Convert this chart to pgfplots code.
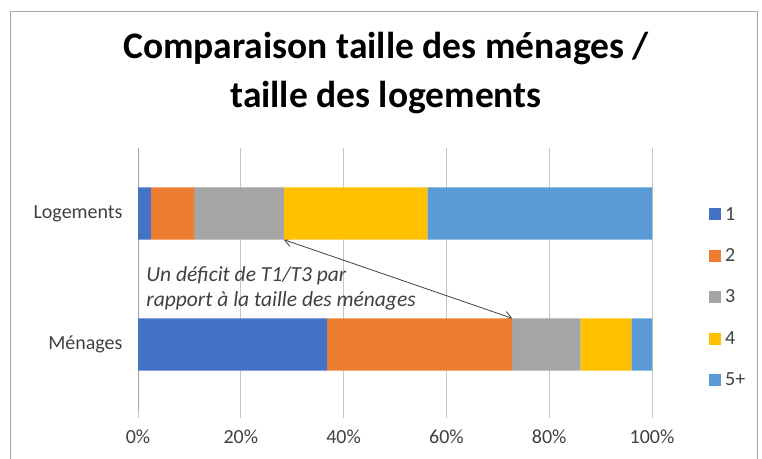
\documentclass[border=0pt]{standalone}
\usepackage{fontspec}
\setmainfont{Carlito}
\usepackage{pgfplots}
\pgfplotsset{compat=1.18}
\usetikzlibrary{arrows.meta}
\definecolor{c1}{HTML}{4472C4}
\definecolor{c2}{HTML}{ED7D31}
\definecolor{c3}{HTML}{A5A5A5}
\definecolor{c4}{HTML}{FFC000}
\definecolor{c5}{HTML}{5B9BD5}
\definecolor{txt}{HTML}{404040}
\begin{document}
\begin{tikzpicture}
\useasboundingbox (0,0) rectangle (762bp,459bp);
\draw[gray!70, line width=0.8bp] (10bp,0) -- (10bp,448bp) -- (757bp,448bp) -- (757bp,0);
\node[font=\fontsize{37.5bp}{49bp}\selectfont\bfseries, align=center, text=black] at (386bp,386bp) {Comparaison taille des ménages /\\taille des logements};
\begin{axis}[
  at={(138bp,49bp)}, anchor=south west,
  scale only axis, width=514bp, height=262bp,
  xbar stacked, bar width=0.4,
  xmin=0, xmax=100, ymin=-0.5, ymax=1.5,
  xtick={0,20,40,60,80,100},
  xticklabels={0\%,20\%,40\%,60\%,80\%,100\%},
  ytick={0,1}, yticklabels={Ménages,Logements},
  minor ytick={-0.5,0.5,1.5},
  major tick length=8bp, minor tick length=6bp,
  tick align=outside,
  xtick style={gray!45, line width=0.8bp},
  ytick style={draw=none},
  minor tick style={gray!70, line width=0.8bp},
  xmajorgrids, grid style={gray!45, line width=0.8bp},
  separate axis lines,
  axis x line*=bottom, axis y line*=left,
  x axis line style={draw=none},
  y axis line style={gray!70, line width=0.8bp},
  tick label style={font=\fontsize{20bp}{24bp}\selectfont, text=txt},
  xticklabel style={yshift=-8bp},
  yticklabel style={xshift=-4bp},
  legend style={at={(1.105,0.79)}, anchor=north west, draw=none, fill=none,
    font=\fontsize{20bp}{24bp}\selectfont, text=txt, row sep=23bp,
    nodes={inner xsep=4bp}},
  legend cell align=left,
  legend image code/.code={\fill[#1] (0bp,-6bp) rectangle (12bp,6bp);},
  every axis plot/.append style={draw=none},
]
\addplot[fill=c1] coordinates {(36.8,0) (2.5,1)};
\addplot[fill=c2] coordinates {(36.0,0) (8.4,1)};
\addplot[fill=c3] coordinates {(13.3,0) (17.5,1)};
\addplot[fill=c4] coordinates {(9.9,0) (27.9,1)};
\addplot[fill=c5] coordinates {(4.0,0) (43.7,1)};
\legend{1,2,3,4,5+}
\draw[{Straight Barb[length=7bp,width=9bp]}-{Straight Barb[length=7bp,width=9bp]}, line width=0.8bp, black!75]
  (axis cs:28.4,0.8) -- (axis cs:72.8,0.2);
\node[anchor=north west, align=left, font=\fontsize{21.5bp}{25bp}\selectfont\itshape, text=txt, inner sep=0pt]
  at (axis cs:1.6,0.60) {Un déficit de T1/T3 par\\rapport à la taille des ménages};
\end{axis}
\end{tikzpicture}
\end{document}
